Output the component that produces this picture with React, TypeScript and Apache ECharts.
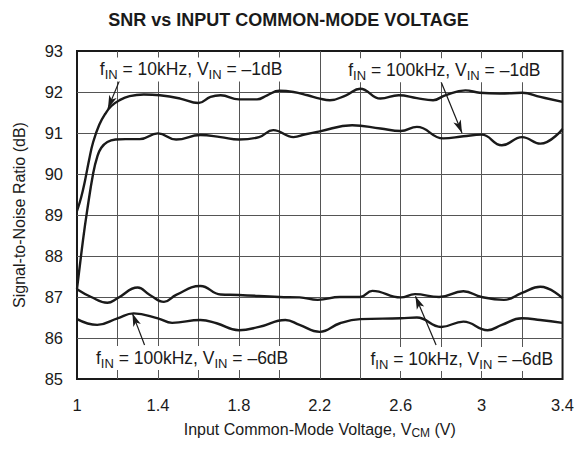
import React, { useEffect, useRef } from "react";
import * as echarts from "echarts";

const FONT = "'Liberation Sans', Arial, Helvetica, sans-serif";

const titleText = "SNR vs INPUT COMMON-MODE VOLTAGE";
const xAxisName = "Input Common-Mode Voltage, V{s|CM} (V)";
const yAxisName = "Signal-to-Noise Ratio (dB)";
const xTickLabels = ["1", "1.4", "1.8", "2.2", "2.6", "3", "3.4"];

// fIN = 10kHz, VIN = -1dB
const vA = [1.0, 1.02, 1.04, 1.06, 1.08, 1.11, 1.14, 1.17, 1.21, 1.26, 1.33, 1.41, 1.51, 1.6, 1.66, 1.71, 1.8, 1.89, 1.94, 2.0, 2.07, 2.14, 2.2, 2.25, 2.33, 2.4, 2.5, 2.59, 2.68, 2.76, 2.82, 2.92, 2.99, 3.09, 3.2, 3.29, 3.4];
const snrA = [89.1, 89.42, 89.85, 90.35, 90.78, 91.2, 91.47, 91.66, 91.8, 91.9, 91.94, 91.92, 91.84, 91.73, 91.88, 91.92, 91.82, 91.82, 91.92, 92.03, 92.0, 91.92, 91.84, 91.8, 91.92, 92.08, 91.84, 91.92, 91.85, 91.8, 91.92, 92.04, 91.98, 91.96, 91.98, 91.88, 91.76];

// fIN = 100kHz, VIN = -1dB
const vB = [1.0, 1.03, 1.05, 1.08, 1.1, 1.12, 1.15, 1.19, 1.24, 1.31, 1.4, 1.49, 1.61, 1.71, 1.8, 1.9, 1.97, 2.07, 2.13, 2.2, 2.36, 2.5, 2.6, 2.68, 2.81, 2.91, 3.0, 3.1, 3.2, 3.29, 3.4];
const snrB = [87.2, 88.4, 89.1, 90.02, 90.42, 90.64, 90.78, 90.84, 90.85, 90.85, 90.99, 90.84, 90.95, 90.9, 90.84, 90.9, 91.07, 90.9, 90.97, 91.04, 91.19, 91.11, 91.05, 91.15, 90.87, 90.92, 90.96, 90.7, 90.9, 90.74, 91.1];

// fIN = 10kHz, VIN = -6dB
const vC = [1.0, 1.07, 1.15, 1.2, 1.3, 1.36, 1.43, 1.49, 1.61, 1.71, 1.8, 2.0, 2.1, 2.19, 2.3, 2.4, 2.46, 2.6, 2.67, 2.79, 2.91, 3.0, 3.11, 3.2, 3.29, 3.4];
const snrC = [87.19, 87.0, 86.86, 86.97, 87.23, 87.05, 86.88, 87.05, 87.27, 87.06, 87.05, 87.0, 86.99, 86.93, 87.0, 87.0, 87.15, 86.99, 87.07, 87.0, 87.14, 87.0, 86.93, 87.1, 87.25, 86.97];

// fIN = 100kHz, VIN = -6dB
const vD = [1.0, 1.1, 1.2, 1.28, 1.4, 1.47, 1.61, 1.69, 1.8, 1.9, 2.03, 2.1, 2.2, 2.3, 2.4, 2.6, 2.68, 2.8, 2.91, 3.03, 3.1, 3.2, 3.29, 3.4];
const snrD = [86.46, 86.32, 86.48, 86.6, 86.48, 86.37, 86.44, 86.36, 86.19, 86.27, 86.44, 86.32, 86.15, 86.36, 86.46, 86.48, 86.5, 86.27, 86.4, 86.19, 86.32, 86.48, 86.44, 86.37];

const labelTexts = [
  "f{s|IN} = 10kHz, V{s|IN} = \u20131dB",
  "f{s|IN} = 100kHz, V{s|IN} = \u20131dB",
  "f{s|IN} = 100kHz, V{s|IN} = \u20136dB",
  "f{s|IN} = 10kHz, V{s|IN} = \u20136dB",
];
const labelX = [1.564, 2.816, 1.569, 2.902];
const labelY = [92.55, 92.53, 85.51, 85.49];
const arrowFromX = [1.211, 2.8, 1.334, 2.775];
const arrowFromY = [92.29, 92.245, 85.83, 85.83];
const arrowToX = [1.153, 2.903, 1.274, 2.673];
const arrowToY = [91.6, 91.0, 86.6, 87.02];

const zip = (xs: number[], ys: number[]) => xs.map((x, i) => [x, ys[i]]);

export default function App() {
  const ref = useRef<HTMLDivElement>(null);
  useEffect(() => {
    if (!ref.current) return;
    const chart = echarts.init(ref.current, undefined, { renderer: "svg" });
    const lineStyle = { color: "#1a1a1a", width: 2.4 };
    const mkSeries = (xs: number[], ys: number[]) => ({
      type: "line",
      data: zip(xs, ys),
      showSymbol: false,
      smooth: 0.45,
      lineStyle,
      silent: true,
      z: 3,
    });
    const series: any[] = [
      mkSeries(vA, snrA),
      mkSeries(vB, snrB),
      mkSeries(vC, snrC),
      mkSeries(vD, snrD),
    ];
    series[0].markLine = {
      silent: true,
      animation: false,
      symbol: ["none", "arrow"],
      symbolSize: [6, 13],
      label: { show: false },
      lineStyle: { color: "#1a1a1a", width: 1.2, type: "solid" },
      data: arrowFromX.map((x, i) => [
        { coord: [x, arrowFromY[i]], symbol: "none" },
        { coord: [arrowToX[i], arrowToY[i]], symbol: "arrow", symbolSize: [6, 13] },
      ]),
    };
    series[0].markPoint = {
      silent: true,
      animation: false,
      symbol: "circle",
      symbolSize: 1,
      itemStyle: { color: "rgba(0,0,0,0)" },
      label: {
        show: true,
        position: "inside",
        color: "#1a1a1a",
        fontFamily: FONT,
        fontSize: 17.5,
        lineHeight: 24,
        backgroundColor: "#fff",
        padding: [0, 3, 0, 3],
        formatter: (p: any) => labelTexts[p.dataIndex],
        rich: {
          s: { fontSize: 13, lineHeight: 11, verticalAlign: "bottom", fontFamily: FONT, color: "#1a1a1a" },
        },
      },
      data: labelX.map((x, i) => ({ coord: [x, labelY[i]], value: i })),
    };

    chart.setOption({
      animation: false,
      backgroundColor: "#fff",
      title: {
        text: titleText,
        left: "center",
        top: 6,
        textStyle: { fontFamily: FONT, fontSize: 18, fontWeight: "bold", color: "#1a1a1a" },
      },
      grid: {
        left: 77,
        right: 14,
        top: 51,
        bottom: 70,
        show: true,
        borderColor: "#1a1a1a",
        borderWidth: 2,
        backgroundColor: "transparent",
      },
      xAxis: {
        type: "value",
        min: 1,
        max: 3.4,
        interval: 0.2,
        name: xAxisName,
        nameLocation: "middle",
        nameGap: 40,
        nameTextStyle: {
          fontFamily: FONT,
          fontSize: 16,
          color: "#1a1a1a",
          lineHeight: 20,
          rich: { s: { fontSize: 12, lineHeight: 8, verticalAlign: "bottom", fontFamily: FONT, color: "#1a1a1a" } },
        },
        axisLine: { show: false },
        axisTick: { show: false },
        axisLabel: {
          margin: 17,
          fontFamily: FONT,
          fontSize: 16.5,
          color: "#1a1a1a",
          formatter: (_v: number, i: number) => (i % 2 === 0 ? xTickLabels[i / 2] ?? "" : ""),
        },
        splitLine: { show: true, showMinLine: false, showMaxLine: false, lineStyle: { color: "#555", width: 1 } },
      },
      yAxis: {
        type: "value",
        min: 85,
        max: 93,
        interval: 1,
        name: yAxisName,
        nameLocation: "middle",
        nameGap: 50,
        nameTextStyle: { fontFamily: FONT, fontSize: 16, color: "#1a1a1a" },
        axisLine: { show: false },
        axisTick: { show: false },
        axisLabel: { margin: 14, fontFamily: FONT, fontSize: 16.5, color: "#1a1a1a" },
        splitLine: { show: true, showMinLine: false, showMaxLine: false, lineStyle: { color: "#555", width: 1 } },
      },
      series,
    });
    return () => chart.dispose();
  }, []);
  return <div ref={ref} style={{ position: "fixed", left: 0, top: 0, width: 577, height: 449 }} />;
}
